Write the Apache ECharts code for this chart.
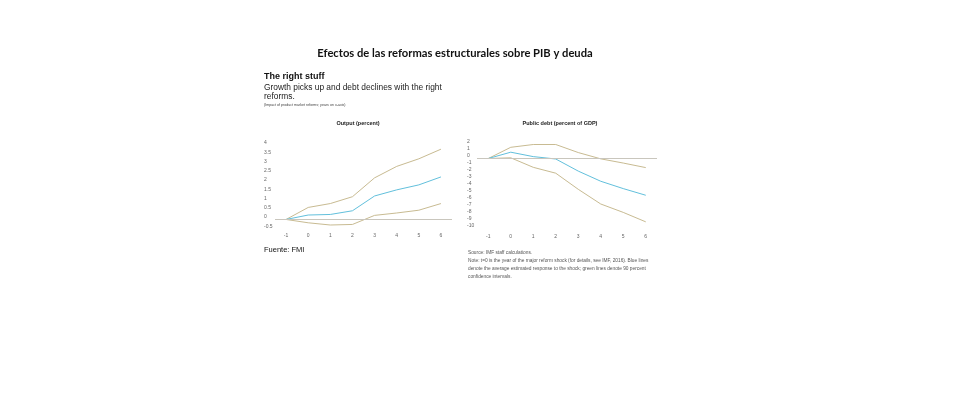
<!DOCTYPE html>
<html><head><meta charset="utf-8">
<script src="https://cdn.jsdelivr.net/npm/echarts@6/dist/echarts.min.js"></script>
<style>html,body{margin:0;padding:0;background:#fff}#c{width:960px;height:400px}</style>
</head><body><div id="c"></div>
<script>
const years = ['-1','0','1','2','3','4','5','6'];
const outputMean  = [0, 0.24, 0.27, 0.47, 1.27, 1.6, 1.87, 2.3];
const outputUpper = [0, 0.65, 0.86, 1.23, 2.25, 2.87, 3.28, 3.8];
const outputLower = [0, -0.18, -0.3, -0.27, 0.22, 0.35, 0.5, 0.86];
const debtMean  = [0, 0.9, 0.27, -0.07, -1.8, -3.25, -4.3, -5.25];
const debtUpper = [0, 1.6, 2.0, 2.0, 0.85, -0.05, -0.65, -1.3];
const debtLower = [0, 0.1, -1.26, -2.1, -4.4, -6.5, -7.7, -9.05];
const outputTicks = [-0.5, 4, 0.5];
const debtTicks = [-10, 2, 1];

const blue = '#62c0dc', tan = '#c8bb92', zeroCol = '#c9c6bd', lab = '#666';
const F = 'Liberation Sans, Arial, sans-serif';

function lineSeries(data, color, gi, withZero){
  const s = {type:'line', data, xAxisIndex:gi, yAxisIndex:gi, showSymbol:false, symbol:'none',
    lineStyle:{color, width:1}, silent:true, z:3};
  if(withZero){
    s.markLine = {silent:true, symbol:['none','none'], label:{show:false},
      lineStyle:{color:zeroCol, width:1, type:'solid'}, data:[{yAxis:0}]};
  }
  return s;
}
function xAx(gi, margin){
  return {type:'category', gridIndex:gi, data:years, boundaryGap:true,
    axisLine:{show:false}, axisTick:{show:false}, splitLine:{show:false},
    axisLabel:{fontSize:5, color:lab, margin, fontFamily:F}};
}
function yAx(gi, t, margin){
  return {type:'value', gridIndex:gi, min:t[0], max:t[1], interval:t[2],
    axisLine:{show:false}, axisTick:{show:false}, splitLine:{show:false},
    axisLabel:{fontSize:5, color:lab, margin, align:'left', verticalAlign:'bottom', fontFamily:F}};
}
function T(text, left, top, style, extra){
  return Object.assign({text, left, top, padding:0, textStyle:Object.assign({fontFamily:F, color:'#111'}, style)}, extra||{});
}
const chart = echarts.init(document.getElementById('c'), null, {renderer:'canvas'});
chart.setOption({
  animation:false,
  backgroundColor:'#fff',
  title:[
    T('Efectos de las reformas estructurales sobre PIB y deuda', 455, 47.5,
      {fontFamily:'Lato, Open Sans, sans-serif', fontWeight:'bold', fontSize:11.2}, {textAlign:'center'}),
    T('The right stuff', 264, 72.5, {fontWeight:'bold', fontSize:9}),
    T('Growth picks up and debt declines with the right\nreforms.', 264, 82.5,
      {fontWeight:'normal', fontSize:8.4, lineHeight:9.5, color:'#222'}),
    T('(Impact of product market reforms; years on x-axis)', 264, 102.5,
      {fontWeight:'normal', fontSize:3.6, color:'#444'}),
    T('Output (percent)', 358, 120.5, {fontWeight:'bold', fontSize:5.5, color:'#222'}, {textAlign:'center'}),
    T('Public debt (percent of GDP)', 560, 120.5, {fontWeight:'bold', fontSize:5.5, color:'#222'}, {textAlign:'center'}),
    T('Fuente: FMI', 264, 246, {fontWeight:'normal', fontSize:7.5}),
    T('Source: IMF staff calculations.\nNote: t=0 is the year of the major reform shock (for details, see IMF, 2016). Blue lines\ndenote the average estimated response to the shock; green lines denote 90 percent\nconfidence intervals.',
      468, 249, {fontWeight:'normal', fontSize:4.8, lineHeight:7.8, color:'#555'})
  ],
  grid:[
    {left:275, width:177, top:145.5, height:83.2},
    {left:477, width:180, top:144.5, height:84}
  ],
  xAxis:[xAx(0,4), xAx(1,6)],
  yAxis:[yAx(0, outputTicks, 11), yAx(1, debtTicks, 10)],
  series:[
    lineSeries(outputUpper, tan, 0, true),
    lineSeries(outputLower, tan, 0, false),
    lineSeries(outputMean, blue, 0, false),
    lineSeries(debtUpper, tan, 1, true),
    lineSeries(debtLower, tan, 1, false),
    lineSeries(debtMean, blue, 1, false)
  ]
});
</script></body></html>
